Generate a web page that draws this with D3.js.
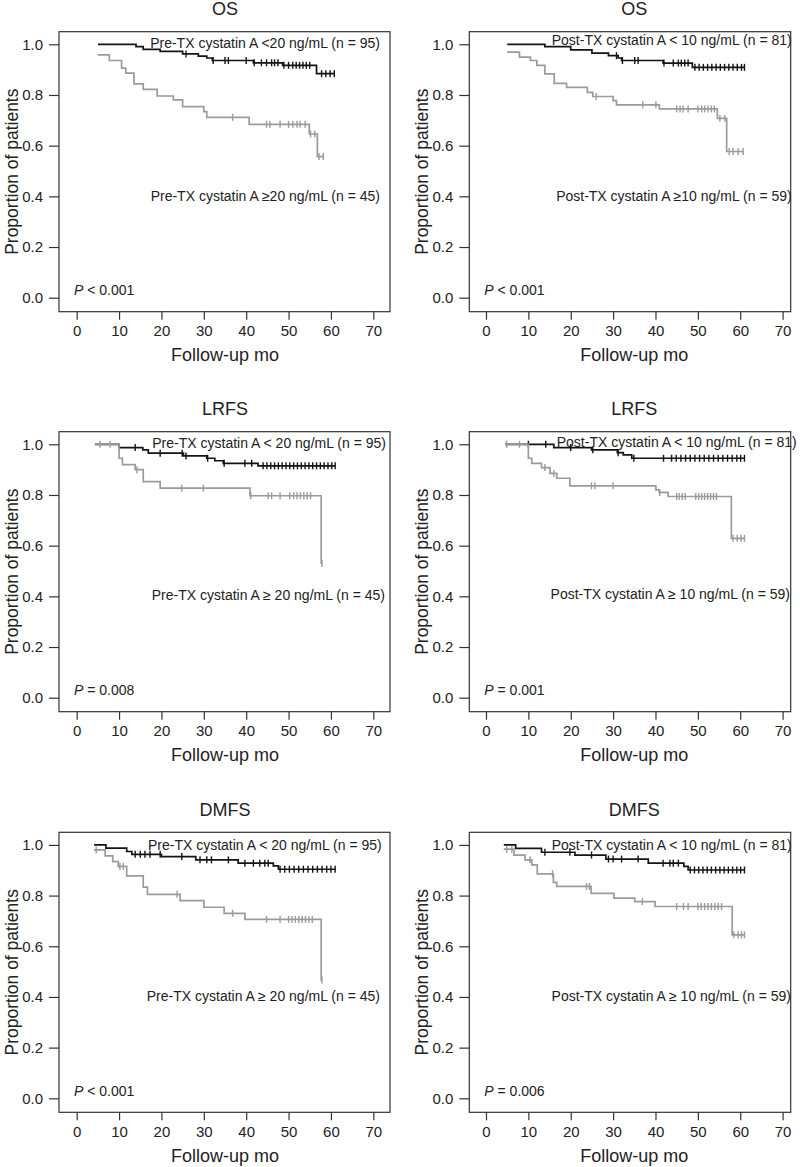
<!DOCTYPE html>
<html><head><meta charset="utf-8">
<script src="https://cdn.jsdelivr.net/npm/d3@7"></script>
<style>body{margin:0;background:#fff}svg{display:block;font-family:"Liberation Sans",Arial,sans-serif}</style>
</head><body><svg id="c" width="800" height="1167"></svg>
<script>
// ---------- data ----------
const xTicks = [0,10,20,30,40,50,60,70];
const yTicks = [0,0.2,0.4,0.6,0.8,1.0];
const titles = ["OS","OS","LRFS","LRFS","DMFS","DMFS"];
const pSigns = ["<","<","=","=","<","="];
const pValues = ["0.001","0.001","0.008","0.001","0.001","0.006"];
const lowLabels = [
  "Pre-TX cystatin A <20 ng/mL (n = 95)",
  "Post-TX cystatin A < 10 ng/mL (n = 81)",
  "Pre-TX cystatin A < 20 ng/mL (n = 95)",
  "Post-TX cystatin A < 10 ng/mL (n = 81)",
  "Pre-TX cystatin A < 20 ng/mL (n = 95)",
  "Post-TX cystatin A < 10 ng/mL (n = 81)"];
const highLabels = [
  "Pre-TX cystatin A \u226520 ng/mL (n = 45)",
  "Post-TX cystatin A \u226510 ng/mL (n = 59)",
  "Pre-TX cystatin A \u2265 20 ng/mL (n = 45)",
  "Post-TX cystatin A \u2265 10 ng/mL (n = 59)",
  "Pre-TX cystatin A \u2265 20 ng/mL (n = 45)",
  "Post-TX cystatin A \u2265 10 ng/mL (n = 59)"];

// step points [month, survival]; censor times in months
const osPreLow = [[5,1.0],[14,0.991],[15.7,0.98],[19.7,0.972],[25,0.962],[28.7,0.953],[30.7,0.946],[32,0.936],[41.7,0.927],[48.6,0.917],[56.6,0.884]];
const osPreLowCens = [25.8,32.2,35,35.8,40,41.9,43.6,44.8,46,46.7,47.5,48.9,50,51,51.8,52.6,53.4,54.2,55,57.8,58.8,59.8,60.8];
const osPreHigh = [[5,0.958],[7.7,0.936],[10.6,0.906],[11.6,0.886],[13.5,0.844],[15.7,0.822],[19,0.796],[22.8,0.781],[25,0.754],[30,0.734],[30.7,0.712],[40.7,0.684],[54.9,0.646],[56.8,0.557]];
const osPreHighCens = [36.8,44.8,45.6,48,50,51,52,52.7,53.9,55.2,56.2,57.2,58.2];

const osPostLow = [[5,1.0],[13.9,0.991],[20,0.978],[25,0.965],[28.9,0.955],[31.2,0.946],[32,0.936],[41.8,0.926],[48.7,0.909]];
const osPostLowCens = [30.8,32.2,35.1,35.9,42,44.2,45.4,46.1,46.9,47.7,49.3,50.3,51.3,52.3,53.3,54.3,55.3,56.3,57.3,58.3,59.3,60.3,61];
const osPostHigh = [[5,0.969],[7.9,0.949],[10.5,0.936],[12,0.917],[13.9,0.883],[16.1,0.846],[19,0.83],[23.9,0.81],[25.2,0.794],[30,0.778],[30.8,0.761],[40.9,0.745],[54.6,0.708],[56.8,0.577]];
const osPostHighCens = [26,37,40.1,45,45.8,46.5,47.7,50,50.9,51.6,52.4,53.2,53.9,55.2,56.4,57.4,58.3,59.5,60.7];

const lrfsPreLow = [[4.3,1.0],[10,0.987],[15.6,0.978],[16.9,0.965],[25.2,0.954],[30.7,0.945],[32.6,0.935],[34.6,0.925],[42.8,0.915]];
const lrfsPreLowCens = [13.8,19.7,24.9,25.8,30.9,34.8,39.7,41.3,44,44.9,45.8,46.7,47.6,48.5,49.4,50.3,51.2,52.1,53,53.9,54.8,55.7,56.6,57.5,58.4,59.3,60.2,61];
const lrfsPreHigh = [[4.3,1.0],[10,0.945],[10.8,0.92],[13.8,0.9],[15.7,0.853],[19.7,0.827],[40.9,0.797],[57.7,0.53]];
const lrfsPreHighCens = [5.5,7.9,14.2,24.8,29.9,41.1,45.2,46,48,50.3,51.2,52,52.8,53.6,54.4,55.2,57.9];

const lrfsPostLow = [[4.5,1.0],[16,0.987],[24.9,0.978],[31,0.967],[32.4,0.958],[34.4,0.945]];
const lrfsPostLowCens = [10,14.1,20,25.2,31.2,34.9,41.9,43.8,44.9,46,47.1,48.2,49.3,50.4,51.5,52.6,53.7,54.8,55.9,57,58.1,59.2,60.1,61];
const lrfsPostHigh = [[4.5,1.0],[10,0.945],[10.8,0.925],[13.1,0.908],[15.1,0.885],[16.7,0.866],[19.8,0.836],[40.1,0.82],[40.9,0.81],[43,0.794],[57.9,0.629]];
const lrfsPostHighCens = [4.9,7.9,13.9,16,24.9,25.7,30,41,45,45.6,46.3,47,49.5,50.2,50.9,51.6,52.3,53,53.7,54.4,58.3,59.3,60.2,61];

const dmfsPreLow = [[4.1,1.0],[6.9,0.987],[11.8,0.974],[13,0.963],[20,0.954],[28.1,0.941],[38.1,0.928],[46.4,0.917],[47.6,0.904]];
const dmfsPreLowCens = [13.8,15,16.1,17.3,19.7,24.8,29.1,30.7,31.8,35.8,39.7,41.7,43.2,44.4,45.2,48,49.1,50.2,51.3,52.4,53.5,54.6,55.7,56.8,57.9,59,60,61];
const dmfsPreHigh = [[4.1,0.98],[6.7,0.957],[8.5,0.934],[9.8,0.915],[11.8,0.878],[15.7,0.833],[16.7,0.805],[24.4,0.78],[30,0.754],[34.8,0.73],[39.7,0.706],[57.7,0.467]];
const dmfsPreHighCens = [4.6,10.2,11,23.7,36.8,44.8,48,50,50.8,51.6,52.4,53.2,54,54.8,55.6,57.9];

const dmfsPostLow = [[4.2,1.0],[7,0.986],[13.1,0.971],[21,0.96],[28.3,0.944],[38.3,0.928],[46.7,0.915],[47.7,0.901]];
const dmfsPostLowCens = [13.9,19.8,24.9,28.9,30,32,35.9,41.8,43.4,44.2,45.4,48.2,49.2,50.2,51.2,52.2,53.2,54.2,55.2,56.2,57.2,58.2,59.2,60.1,61];
const dmfsPostHigh = [[4.2,0.983],[6.6,0.96],[9.2,0.941],[10.8,0.921],[12.1,0.886],[15.9,0.852],[16.7,0.836],[24.8,0.809],[30.2,0.79],[35.1,0.776],[39.9,0.757],[58.1,0.645]];
const dmfsPostHighCens = [4.9,6.1,10.4,15.7,23.7,24.4,36.9,45,46.6,47.7,50,50.8,51.6,52.4,53.2,54,54.8,55.6,58.5,59.5,60.3,61];

const lowSeries = [osPreLow,osPostLow,lrfsPreLow,lrfsPostLow,dmfsPreLow,dmfsPostLow];
const lowCens = [osPreLowCens,osPostLowCens,lrfsPreLowCens,lrfsPostLowCens,dmfsPreLowCens,dmfsPostLowCens];
const highSeries = [osPreHigh,osPostHigh,lrfsPreHigh,lrfsPostHigh,dmfsPreHigh,dmfsPostHigh];
const highCens = [osPreHighCens,osPostHighCens,lrfsPreHighCens,lrfsPostHighCens,dmfsPreHighCens,dmfsPostHighCens];

// ---------- layout ----------
const colBoxL = [59, 469.3], colBoxR = [390, 790.7], colZero = [76.7, 486], span70 = 296.6;
const rowOff = [0, 400, 800.6];
const lowLabelPos = [[380,43],[791.7,40],[386,442.7],[796.7,442],[381.7,845],[791.7,845]];
const highLabelPos = [[380,195.7],[791.7,196],[385,595],[790,594],[380,996],[791,996]];
const BLACK = "#141414", GRAY = "#9b9b9b";

const svg = d3.select("#c");

function stepAt(steps, t){ let v = steps[0][1]; for (const s of steps){ if (s[0] <= t) v = s[1]; } return v; }

for (let i = 0; i < 6; i++){
  const c = i % 2, r = Math.floor(i/2), off = rowOff[r];
  const g = svg.append("g");
  const x = d3.scaleLinear().domain([0,70]).range([colZero[c], colZero[c] + span70]);
  const y = d3.scaleLinear().domain([0,1]).range([297.7 + off, 44.3 + off]);
  const top = 31.7 + off, bot = 311.7 + off;

  // box
  g.append("rect").attr("x", colBoxL[c]).attr("y", top).attr("width", colBoxR[c]-colBoxL[c]).attr("height", bot-top)
    .attr("fill","none").attr("stroke","#333").attr("stroke-width",1.2);

  // y axis
  const ya = g.append("g").attr("transform", `translate(${colBoxL[c]},0)`)
    .call(d3.axisLeft(y).tickValues(yTicks).tickFormat(d3.format(".1f")).tickSize(10).tickPadding(6));
  ya.select(".domain").remove();
  ya.selectAll("line").attr("stroke","#333").attr("stroke-width",1.2);
  ya.selectAll("text").attr("font-size",15).attr("fill","#222").attr("font-family","Liberation Sans, Arial, sans-serif");

  // x axis
  const xa = g.append("g").attr("transform", `translate(0,${bot})`)
    .call(d3.axisBottom(x).tickValues(xTicks).tickSize(8).tickPadding(6));
  xa.select(".domain").remove();
  xa.selectAll("line").attr("stroke","#333").attr("stroke-width",1.2);
  xa.selectAll("text").attr("font-size",15).attr("fill","#222").attr("font-family","Liberation Sans, Arial, sans-serif");

  // titles
  g.append("text").attr("x", x(35)).attr("y", 9 + off).attr("dy","0.35em").attr("text-anchor","middle")
    .attr("font-size",18).attr("fill","#222").text(titles[i]);
  g.append("text").attr("x", x(35)).attr("y", 355 + off).attr("dy","0.35em").attr("text-anchor","middle")
    .attr("font-size",18).attr("fill","#222").text("Follow-up mo");
  g.append("text").attr("transform", `translate(${colBoxL[c]-47},${(top+bot)/2}) rotate(-90)`).attr("dy","0.35em")
    .attr("text-anchor","middle").attr("font-size",17.5).attr("fill","#222").text("Proportion of patients");

  // P value
  const pt = g.append("text").attr("x", colBoxL[c] + 15).attr("y", 290 + off).attr("dy","0.35em")
    .attr("font-size",14).attr("fill","#222");
  pt.append("tspan").attr("font-style","italic").text("P");
  pt.append("tspan").text(" " + pSigns[i] + " " + pValues[i]);

  // curves
  const line = d3.line().x(d => x(d[0])).y(d => y(d[1])).curve(d3.curveStepAfter);
  const groups = [[lowSeries[i], lowCens[i], BLACK], [highSeries[i], highCens[i], GRAY]];
  groups.forEach(([steps, cens, col]) => {
    const end = Math.max(steps[steps.length-1][0], d3.max(cens));
    const pts = steps.concat([[end, steps[steps.length-1][1]]]);
    g.append("path").attr("d", line(pts)).attr("fill","none").attr("stroke",col).attr("stroke-width",1.7);
    g.selectAll(null).data(cens).enter().append("line")
      .attr("x1", d => x(d)).attr("x2", d => x(d))
      .attr("y1", d => y(stepAt(steps,d)) - 3.5).attr("y2", d => y(stepAt(steps,d)) + 3.5)
      .attr("stroke", col).attr("stroke-width",1.4);
  });

  // labels
  g.append("text").attr("x", lowLabelPos[i][0]).attr("y", lowLabelPos[i][1]).attr("dy","0.35em").attr("text-anchor","end")
    .attr("font-size",14).attr("fill","#222").text(lowLabels[i]);
  g.append("text").attr("x", highLabelPos[i][0]).attr("y", highLabelPos[i][1]).attr("dy","0.35em").attr("text-anchor","end")
    .attr("font-size",14).attr("fill","#222").text(highLabels[i]);
}
</script></body></html>
